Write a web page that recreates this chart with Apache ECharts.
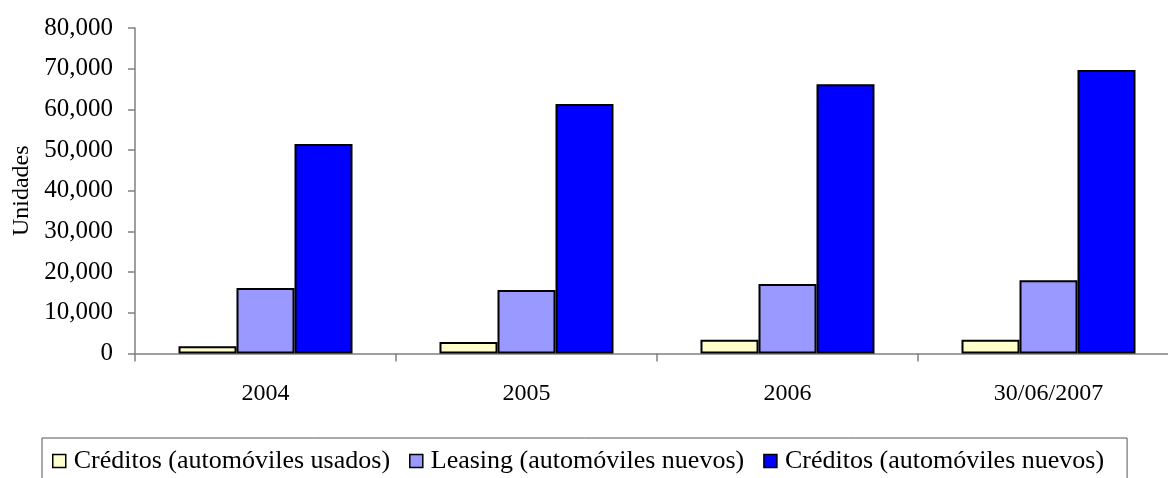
<!DOCTYPE html>
<html>
<head>
<meta charset="utf-8">
<script src="https://cdn.jsdelivr.net/npm/echarts@6/dist/echarts.min.js"></script>
<style>
html,body{margin:0;padding:0;background:#fff;}
#chart{width:1168px;height:478px;}
</style>
</head>
<body>
<div id="chart"></div>
<script>
const categories = ['2004', '2005', '2006', '30/06/2007'];
const seriesNames = ['Créditos (automóviles usados)', 'Leasing (automóviles nuevos)', 'Créditos (automóviles nuevos)'];
const creditosUsados = [1800, 2800, 3400, 3400];
const leasingNuevos = [16100, 15600, 17100, 18000];
const creditosNuevos = [51500, 61300, 66200, 69700];
const yTicks = [0, 10000, 20000, 30000, 40000, 50000, 60000, 70000, 80000];

const FONT = "'Liberation Serif', 'Times New Roman', serif";
const colors = ['#FFFFCC', '#9999FF', '#0000FF'];
const values = [creditosUsados, leasingNuevos, creditosNuevos];

const chart = echarts.init(document.getElementById('chart'), null, {renderer: 'canvas'});
chart.setOption({
  animation: false,
  backgroundColor: '#ffffff',
  grid: {left: 135, top: 28, right: -11, bottom: 124.5, containLabel: false, outerBoundsMode: 'none'},
  legend: {
    left: 42, top: 438,
    orient: 'horizontal',
    padding: [10, 23, 40, 10],
    borderColor: '#555555', borderWidth: 1,
    itemWidth: 13, itemHeight: 13, itemGap: 19,
    icon: 'rect',
    itemStyle: {borderColor: '#000', borderWidth: 1.5},
    textStyle: {fontFamily: FONT, fontSize: 26, color: '#000', padding: [0, 0, 0, 3]},
    data: seriesNames
  },
  xAxis: {
    type: 'category',
    data: categories,
    boundaryGap: true,
    axisLine: {show: true, lineStyle: {color: '#808080', width: 1.5}},
    axisTick: {show: true, length: 8, inside: false, alignWithLabel: false, lineStyle: {color: '#808080', width: 1.5}},
    axisLabel: {fontFamily: FONT, fontSize: 24, color: '#000', margin: 28},
    splitLine: {show: false}
  },
  yAxis: {
    type: 'value',
    min: yTicks[0], max: yTicks[yTicks.length - 1], interval: yTicks[1] - yTicks[0],
    name: 'Unidades',
    nameLocation: 'middle',
    nameGap: 99,
    nameRotate: 90,
    nameTextStyle: {fontFamily: FONT, fontSize: 24, color: '#000'},
    axisLine: {show: true, lineStyle: {color: '#808080', width: 1.5}},
    axisTick: {show: true, length: 7, inside: false, lineStyle: {color: '#808080', width: 1.5}},
    axisLabel: {fontFamily: FONT, fontSize: 25, color: '#000', margin: 22,
      formatter: v => v.toLocaleString('en-US')},
    splitLine: {show: false}
  },
  series: seriesNames.map((n, i) => ({
    name: n,
    type: 'bar',
    data: values[i],
    barWidth: 58,
    barGap: '0%',
    itemStyle: {color: colors[i], borderColor: '#000', borderWidth: 2},
    emphasis: {disabled: true}
  }))
});
</script>
</body>
</html>
